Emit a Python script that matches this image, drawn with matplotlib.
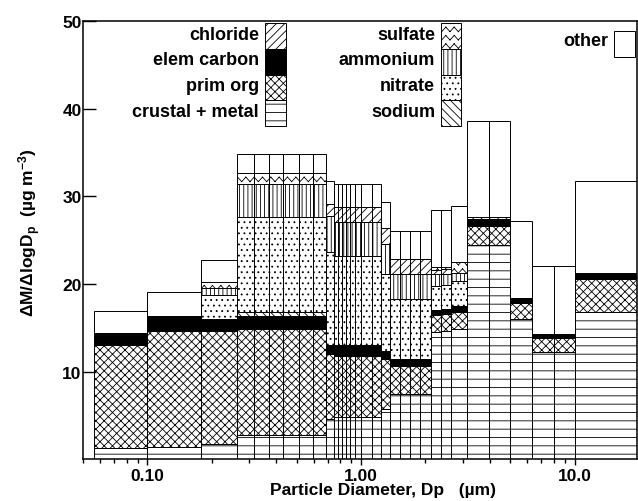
import warnings

import numpy as np
import matplotlib
matplotlib.use("Agg")
import matplotlib.pyplot as plt
from matplotlib import hatch as mhatch
from matplotlib.path import Path
from matplotlib.patches import Rectangle
from matplotlib.ticker import NullFormatter

warnings.filterwarnings("ignore")

# size bins (um) and extra sub-bin lines drawn by the original plot
bin_lo = [0.056, 0.100, 0.178, 0.262, 0.684, 0.746, 1.238, 1.364,
          2.123, 2.365, 2.649, 3.131, 4.977, 6.31, 10.0]
bin_hi = [0.100, 0.178, 0.262, 0.684, 0.746, 1.238, 1.364, 2.123,
          2.365, 2.649, 3.131, 4.977, 6.31, 10.0, 19.6]
inner_lines = [0.315, 0.370, 0.430, 0.511, 0.595,
               0.779, 0.813, 0.849, 0.886, 0.935, 0.998, 1.124,
               1.519, 1.692, 1.886, 3.969, 7.97]

# component mass (ug m-3 per dlogDp), bottom to top
crustal = [1.27, 1.4, 1.7, 2.8, 4.6, 4.8, 5.8, 7.5, 14.5, 14.6, 14.9, 24.4, 16.0, 12.3, 16.8]
prim_org = [11.73, 13.2, 13.0, 12.1, 7.4, 7.0, 5.6, 3.2, 2.0, 2.0, 1.9, 2.2, 1.8, 1.6, 3.8]
elem_carbon = [1.2, 1.4, 1.3, 1.5, 1.0, 1.2, 1.0, 0.8, 0.5, 0.5, 0.7, 0.6, 0.6, 0.4, 0.6]
sodium = [0.0, 0.0, 0.0, 0.4, 0.0, 0.0, 0.0, 0.0, 0.0, 0.0, 0.0, 0.0, 0.0, 0.0, 0.0]
nitrate = [0.15, 0.15, 2.7, 10.8, 10.6, 10.2, 8.7, 6.8, 2.8, 2.8, 2.8, 0.1, 0.0, 0.0, 0.1]
ammonium = [0.05, 0.05, 0.9, 3.8, 4.2, 3.9, 3.5, 2.8, 1.3, 1.3, 1.0, 0.1, 0.0, 0.0, 0.0]
chloride = [0.0, 0.0, 0.0, 0.0, 1.3, 1.7, 1.8, 1.8, 0.5, 0.5, 0.0, 0.2, 0.0, 0.0, 0.0]
sulfate = [0.05, 0.1, 0.6, 1.3, 0.0, 0.0, 0.0, 0.0, 0.3, 0.3, 1.2, 0.1, 0.0, 0.0, 0.0]
other = [2.5, 2.75, 2.5, 2.1, 2.6, 2.6, 2.9, 3.2, 6.5, 6.5, 6.4, 10.9, 8.8, 7.8, 10.4]


class ZigZagHatch(mhatch.HatchPatternBase):
    # rows of chevrons for the sulfate fill, drawn as separate segments
    # so that Agg does not fill them
    def __init__(self, hatch, density):
        self.num_rows = hatch.count("z") * density
        self.num_vertices = self.num_rows * (2 * self.num_rows) * 2

    def set_vertices_and_codes(self, vertices, codes):
        n = self.num_rows
        xs = np.linspace(0, 1, 2 * n + 1)
        bump = np.tile([0.0, 0.55 / n], n + 1)[:2 * n + 1]
        k = 0
        for i in range(n):
            ys = (i + 0.2) / n + bump
            for j in range(2 * n):
                vertices[k] = xs[j], ys[j]
                vertices[k + 1] = xs[j + 1], ys[j + 1]
                codes[k] = Path.MOVETO
                codes[k + 1] = Path.LINETO
                k += 2


mhatch._hatch_types.append(ZigZagHatch)

plt.rcParams["font.family"] = ["Liberation Sans", "DejaVu Sans"]
plt.rcParams["font.weight"] = "bold"
plt.rcParams["axes.labelweight"] = "bold"
plt.rcParams["mathtext.fontset"] = "custom"
plt.rcParams["mathtext.bf"] = "Liberation Sans:bold"
plt.rcParams["mathtext.rm"] = "Liberation Sans:bold"
plt.rcParams["mathtext.default"] = "bf"
plt.rcParams["hatch.linewidth"] = 0.6
plt.rcParams["hatch.color"] = "black"

layers = [
    ("crustal + metal", crustal, "white", "--"),
    ("prim org", prim_org, "white", "xxxx"),
    ("elem carbon", elem_carbon, "black", None),
    ("sodium", sodium, "white", "\\\\\\\\"),
    ("nitrate", nitrate, "white", "..."),
    ("ammonium", ammonium, "white", "||||"),
    ("chloride", chloride, "white", "////"),
    ("sulfate", sulfate, "white", "zz"),
    ("other", other, "white", None),
]
style = {name: (fc, h) for name, _, fc, h in layers}

fig = plt.figure(figsize=(6.38, 5.02), dpi=100)
ax = fig.add_axes([83 / 638, 1 - 460.4 / 502, 554 / 638, 438.4 / 502])

for i in range(len(bin_lo)):
    cuts = [bin_lo[i]] + [c for c in inner_lines if bin_lo[i] < c < bin_hi[i]] + [bin_hi[i]]
    for left, right in zip(cuts[:-1], cuts[1:]):
        bottom = 0.0
        for name, vals, fc, h in layers:
            v = vals[i]
            if v <= 0:
                continue
            ax.bar(left, v, width=right - left, bottom=bottom, align="edge",
                   facecolor=fc, edgecolor="black", linewidth=0.7, hatch=h)
            bottom += v

ax.set_xscale("log")
ax.set_xlim(0.05, 19.6)
ax.set_ylim(0, 50)
ax.set_xticks([0.1, 1, 10])
ax.set_xticklabels(["0.10", "1.00", "10.0"])
ax.xaxis.set_minor_formatter(NullFormatter())
ax.set_yticks([10, 20, 30, 40, 50])
ax.tick_params(axis="x", which="both", direction="out", width=1, labelsize=12.5, pad=1.5)
ax.tick_params(axis="x", which="major", length=4.5)
ax.tick_params(axis="x", which="minor", length=3)
ax.tick_params(axis="y", direction="in", length=9.5, width=1, labelsize=12.5, pad=1)
for s in ax.spines.values():
    s.set_linewidth(1.1)

ax.set_xlabel("Particle Diameter, Dp   (µm)", fontsize=12.5)
ax.xaxis.set_label_coords(0.5415, -0.052)
ax.set_ylabel("ΔM/ΔlogD$_p$  (µg m$^{-3}$)", fontsize=12.5)
ax.yaxis.set_label_coords(-0.072, 0.52)

# hand-made key
bw, bh = 20.7 / 554, 25.8 / 438.4
top = (460.4 - 24) / 438.4
columns = [
    (0.3285, 0.3177, ["chloride", "elem carbon", "prim org", "crustal + metal"]),
    (0.6457, 0.6354, ["sulfate", "ammonium", "nitrate", "sodium"]),
]
for bx, tx, names in columns:
    for r, name in enumerate(names):
        fc, h = style[name]
        y0 = top - (r + 1) * bh
        ax.add_patch(Rectangle((bx, y0), bw, bh, transform=ax.transAxes, facecolor=fc,
                               edgecolor="black", linewidth=0.7, hatch=h, clip_on=False))
        ax.text(tx, y0 + bh / 2 + 0.004, name, transform=ax.transAxes, ha="right",
                va="center", fontsize=13)

oy = (460.4 - 58) / 438.4
ax.add_patch(Rectangle((0.9585, oy), 0.0384, bh, transform=ax.transAxes, facecolor="white",
                       edgecolor="black", linewidth=0.7, clip_on=False))
ax.text(0.9477, oy + bh / 2 + 0.008, "other", transform=ax.transAxes, ha="right",
        va="center", fontsize=13)

fig.savefig("out.png", dpi=100)
